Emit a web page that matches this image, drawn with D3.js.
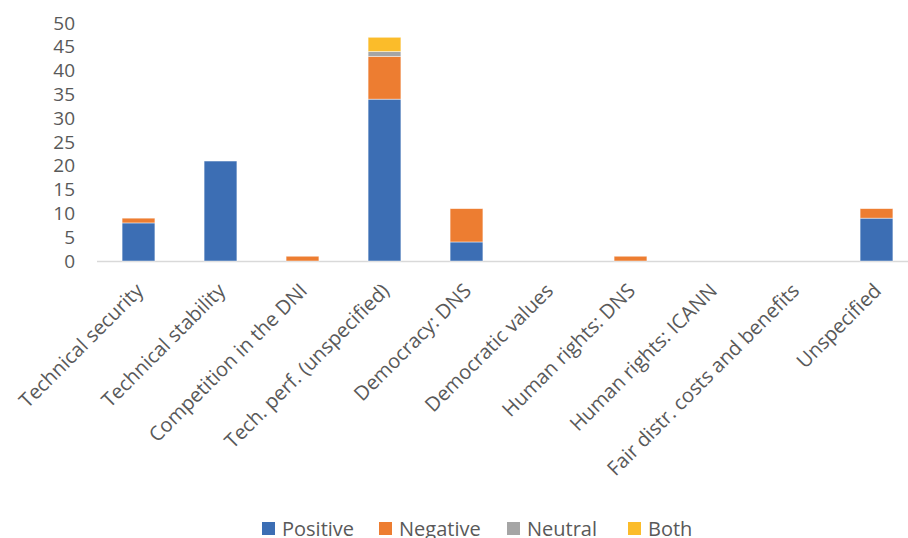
<!doctype html>
<html>
<head>
<meta charset="utf-8">
<style>
  body { margin: 0; background: #fff; }
  text { font-family: "Open Sans", "Liberation Sans", sans-serif; fill: #595959; }
</style>
<script src="https://d3js.org/d3.v7.min.js"></script>
</head>
<body>
<svg width="908" height="538"></svg>
<script>
var categories = ["Technical security", "Technical stability", "Competition in the DNI",
  "Tech. perf. (unspecified)", "Democracy: DNS", "Democratic values",
  "Human rights: DNS", "Human rights: ICANN", "Fair distr. costs and benefits", "Unspecified"];
var positive = [8, 21, 0, 34, 4, 0, 0, 0, 0, 9];
var negative = [1, 0, 1, 9, 7, 0, 1, 0, 0, 2];
var neutral  = [0, 0, 0, 1, 0, 0, 0, 0, 0, 0];
var both     = [0, 0, 0, 3, 0, 0, 0, 0, 0, 0];
var seriesNames = ["Positive", "Negative", "Neutral", "Both"];
var colors = ["#3C6EB4", "#ED7D31", "#A5A5A5", "#FBBC2A"];
var yTicks = [0, 5, 10, 15, 20, 25, 30, 35, 40, 45, 50];

var svg = d3.select("svg");
var rows = categories.map(function(c, i) {
  return {cat: c, Positive: positive[i], Negative: negative[i], Neutral: neutral[i], Both: both[i]};
});
var stack = d3.stack().keys(seriesNames)(rows);

var x = d3.scaleBand().domain(categories).range([97.5, 917.5]).paddingInner(0.6).paddingOuter(0.3);
var y = d3.scaleLinear().domain([0, 50]).range([261, 23]);

// baseline
svg.append("line").attr("x1", 97).attr("x2", 908)
  .attr("y1", y(0) + 0.5).attr("y2", y(0) + 0.5)
  .attr("stroke", "#d9d9d9").attr("stroke-width", 1.5);

// y labels
svg.selectAll(".ytick").data(yTicks).enter().append("text")
  .attr("x", 75).attr("y", function(d) { return y(d); })
  .attr("dy", "0.35em").attr("text-anchor", "end")
  .style("font-size", "19px").text(function(d) { return d; });

svg.selectAll(".series").data(stack).enter().append("g")
  .attr("fill", function(d, i) { return colors[i]; })
  .selectAll("rect").data(function(d) { return d; }).enter()
  .filter(function(d) { return d[1] > d[0]; })
  .append("rect")
  .attr("x", function(d) { return x(d.data.cat); })
  .attr("width", x.bandwidth())
  .attr("y", function(d) { return y(d[1]); })
  .attr("height", function(d) { return y(d[0]) - y(d[1]); })
  .attr("stroke", "#fff").attr("stroke-opacity", 0.6).attr("stroke-width", 0.75);

// category labels
svg.selectAll(".xlab").data(categories).enter().append("text")
  .attr("text-anchor", "end")
  .attr("transform", function(d) {
    return "translate(" + (x(d) + x.bandwidth() / 2 + 6) + ",292) rotate(-45)";
  })
  .style("font-size", "20px").text(function(d) { return d; });

// legend
var legX = [262, 379, 507, 628];
var leg = svg.selectAll(".leg").data(seriesNames).enter().append("g")
  .attr("transform", function(d, i) { return "translate(" + legX[i] + ",522)"; });
leg.append("rect").attr("width", 13).attr("height", 13).attr("fill", function(d, i) { return colors[i]; });
leg.append("text").attr("x", 20).attr("y", 14).style("font-size", "20px").text(function(d) { return d; });
</script>
</body>
</html>
